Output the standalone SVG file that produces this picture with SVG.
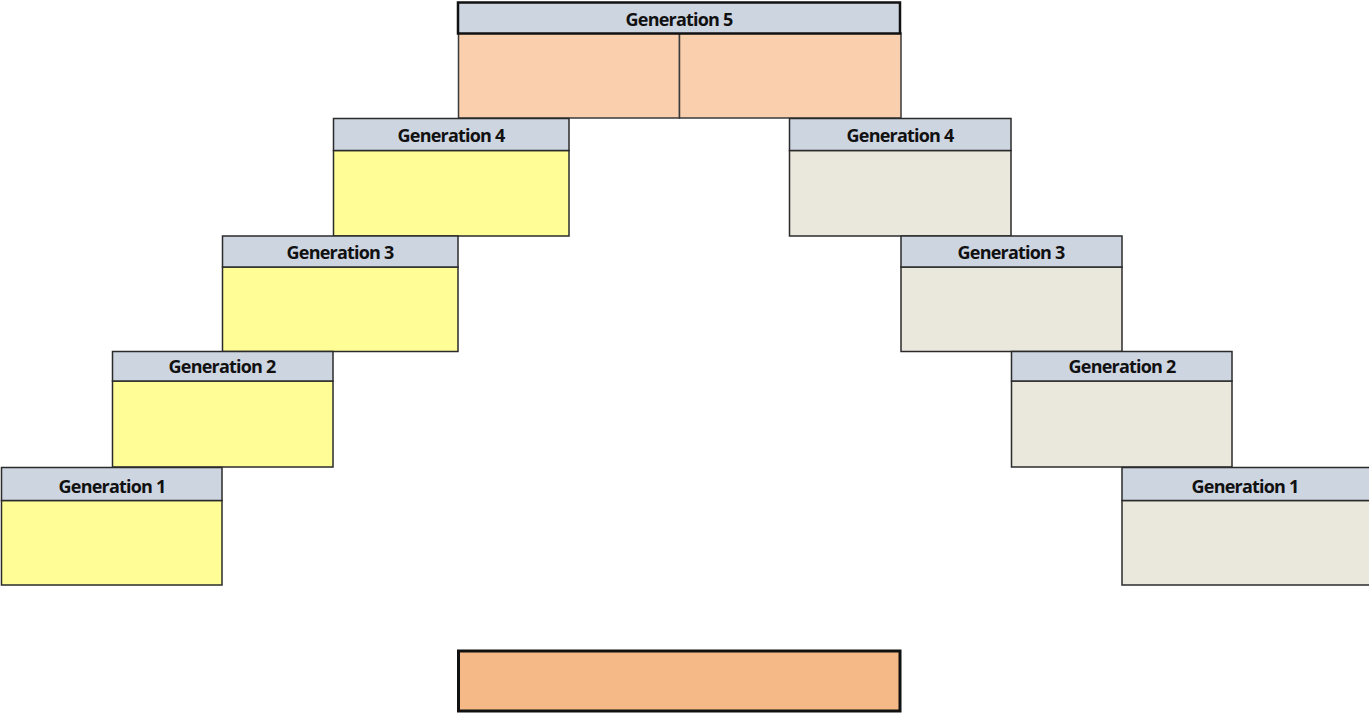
<svg xmlns="http://www.w3.org/2000/svg" width="1369" height="714" viewBox="0 0 1369 714">
<style>
.hd{fill:#CDD5E1;stroke:#2b2b2b;stroke-width:1.5}
.y{fill:#FFFD96;stroke:#2b2b2b;stroke-width:1.5}
.b{fill:#EAE8DD;stroke:#2b2b2b;stroke-width:1.5}
.p{fill:#F9CFAE;stroke:#3a3a3a;stroke-width:1.5}
.t{font-family:"Open Sans","Liberation Sans",sans-serif;font-weight:bold;font-size:18px;fill:#111;text-anchor:middle;letter-spacing:-0.8px}
</style>
<rect width="1369" height="714" fill="#fff"/>
<g id="gen5">
<rect class="p" x="458.5" y="33" width="221" height="85"/>
<rect class="p" x="679.5" y="33" width="221.5" height="85"/>
<rect class="hd" x="458" y="2.5" width="442" height="31" style="stroke-width:2.5;stroke:#111"/>
<text class="t" x="679" y="26">Generation 5</text>
</g>
<g id="gen4-left">
<rect class="y" x="333.5" y="150.5" width="235.5" height="85.5"/>
<rect class="hd" x="333.5" y="118.5" width="235.5" height="32"/>
<text class="t" x="451" y="142">Generation 4</text>
</g>
<g id="gen4-right">
<rect class="b" x="789.5" y="150.5" width="221.5" height="85.5"/>
<rect class="hd" x="789.5" y="118.5" width="221.5" height="32"/>
<text class="t" x="900" y="142">Generation 4</text>
</g>
<g id="gen3-left">
<rect class="y" x="222.5" y="267" width="235.5" height="84.5"/>
<rect class="hd" x="222.5" y="236" width="235.5" height="31"/>
<text class="t" x="340" y="259">Generation 3</text>
</g>
<g id="gen3-right">
<rect class="b" x="901" y="267" width="221" height="84.5"/>
<rect class="hd" x="901" y="236" width="221" height="31"/>
<text class="t" x="1011" y="259">Generation 3</text>
</g>
<g id="gen2-left">
<rect class="y" x="112.5" y="381" width="220.5" height="86"/>
<rect class="hd" x="112.5" y="351.5" width="220.5" height="29.5"/>
<text class="t" x="222" y="373">Generation 2</text>
</g>
<g id="gen2-right">
<rect class="b" x="1011.5" y="381" width="220.5" height="86"/>
<rect class="hd" x="1011.5" y="351.5" width="220.5" height="29.5"/>
<text class="t" x="1122" y="373">Generation 2</text>
</g>
<g id="gen1-left">
<rect class="y" x="1.5" y="500.5" width="220.5" height="84.5"/>
<rect class="hd" x="1.5" y="467.5" width="220.5" height="33"/>
<text class="t" x="112" y="493">Generation 1</text>
</g>
<g id="gen1-right">
<rect class="b" x="1122" y="500.5" width="248" height="84.5"/>
<rect class="hd" x="1122" y="467.5" width="248" height="33"/>
<text class="t" x="1245" y="493">Generation 1</text>
</g>
<g id="bottom-box">
<rect x="458.5" y="651" width="441.5" height="60" fill="#F5B987" stroke="#111" stroke-width="3"/>
</g>
<g id="connectors"></g>
</svg>
